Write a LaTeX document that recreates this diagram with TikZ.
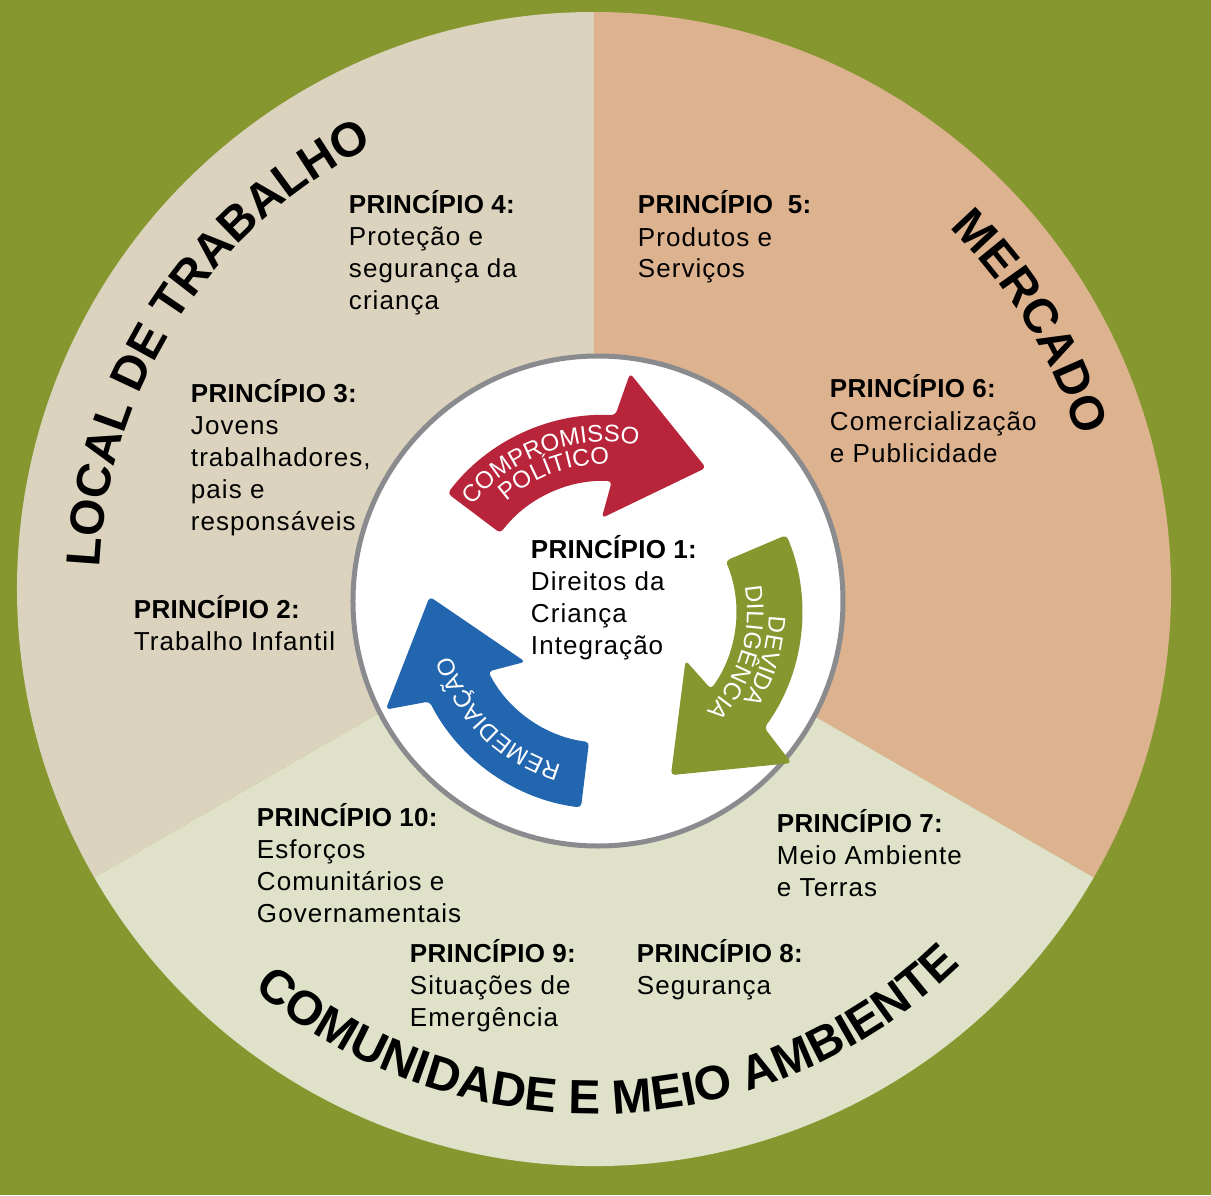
\documentclass[tikz,border=0pt]{standalone}
\usepackage{fontspec}
\setmainfont{Liberation Sans}
\newfontfamily\prinfont[LetterSpace=4]{Liberation Sans}
\newfontfamily\headfamily[LetterSpace=1]{Liberation Sans}
\usepackage{tikz}
\usetikzlibrary{decorations.text}

\definecolor{bggreen}{HTML}{86972F}
\definecolor{workbeige}{HTML}{DCD3BE}
\definecolor{markettan}{HTML}{DCB28F}
\definecolor{commgreen}{HTML}{E0E1C9}
\definecolor{commitred}{HTML}{B8253A}
\definecolor{remedyblue}{HTML}{2366B0}
\definecolor{ringgray}{HTML}{8A8B8F}

\newcommand{\sectorfont}{\bfseries\fontsize{24}{24}\selectfont}
\newcommand{\arrowfont}{\prinfont\fontsize{12}{12}\selectfont}
\newcommand{\prinhead}{\headfamily\bfseries}

% curved arrow round the hub: tail angle, colour, extra turn of the head
\newcommand{\cyclearrow}[3]{%
  \fill[#2,rounded corners=2pt] (#1:197) arc[start angle=#1,end angle=#1-56-#3,radius=197]
    -- (#1-59-#3:240) -- (#1-88-#3:176) -- (#1-51-#3:94) -- (#1-56-#3:131)
    arc[start angle=#1-56-#3,end angle=#1,radius=131] -- cycle;}

% text on an arc: start angle, end angle, radius, font, text, colour
\newcommand{\arctext}[6]{%
  \path[decorate,decoration={text along path,text align=center,text color=#6,
    text={|#4|#5}}] (#1:#3) arc[start angle=#1,end angle=#2,radius=#3];}

\begin{document}
\begin{tikzpicture}[x=0.5pt,y=0.5pt,
  prin/.style={anchor=base west,align=left,inner sep=0pt,outer sep=0pt,
    font=\prinfont\fontsize{13}{16}\selectfont}]

  \fill[bggreen] (-594,-606) rectangle (617,589);
  \useasboundingbox (-594,-606) rectangle (617,589);
  \coordinate (O) at (0,0);

  % the three fields
  \fill[workbeige] (O) -- (90:577) arc[start angle=90,end angle=210,radius=577] -- cycle;
  \fill[markettan] (O) -- (-30:577) arc[start angle=-30,end angle=90,radius=577] -- cycle;
  \fill[commgreen] (O) -- (210:577) arc[start angle=210,end angle=330,radius=577] -- cycle;

  \arctext{207}{87}{495}{\sectorfont}{LOCAL DE TRABALHO}{black}
  \arctext{72}{-9}{507}{\sectorfont}{MERCADO}{black}
  \arctext{212}{332}{525}{\sectorfont}{COMUNIDADE E MEIO AMBIENTE}{black}

  % centre
  \draw[ringgray,fill=white,line width=2.5pt] (4,-12) circle[radius=245];

  \begin{scope}[shift={(11,-23)}]
    \coordinate (hub) at (0,0);
    \cyclearrow{143}{commitred}{0}
    \cyclearrow{23}{bggreen}{3}
    \cyclearrow{263}{remedyblue}{0}
    \arctext{150}{70}{170}{\arrowfont}{COMPROMISSO}{white}
    \arctext{150}{70}{148}{\arrowfont}{POLÍTICO}{white}
    \arctext{23}{-57}{164}{\arrowfont}{DEVIDA}{white}
    \arctext{23}{-57}{142}{\arrowfont}{DILIGÊNCIA}{white}
    \arctext{265}{185}{159}{\arrowfont}{REMEDIAÇÃO}{white}
  \end{scope}

  % base anchor = last line of each text
  \node[prin] (p1) at (-63,-65) {{\prinhead PRINCÍPIO 1:}\\Direitos da\\Criança\\Integração};
  \node[prin] (p2) at (-460,-61) {{\prinhead PRINCÍPIO 2:}\\Trabalho Infantil};
  \node[prin] (p3) at (-403,59) {{\prinhead PRINCÍPIO 3:}\\Jovens\\trabalhadores,\\pais e\\responsáveis};
  \node[prin] (p4) at (-245,279) {{\prinhead PRINCÍPIO 4:}\\Proteção e\\segurança da\\criança};
  \node[prin] (p5) at (44,311) {{\prinhead PRINCÍPIO\ \ 5:}\\Produtos e\\Serviços};
  \node[prin] (p6) at (236,127) {{\prinhead PRINCÍPIO 6:}\\Comercialização\\e Publicidade};
  \node[prin] (p7) at (183,-307) {{\prinhead PRINCÍPIO 7:}\\Meio Ambiente\\e Terras};
  \node[prin] (p8) at (43,-405) {{\prinhead PRINCÍPIO 8:}\\Segurança};
  \node[prin] (p9) at (-184,-437) {{\prinhead PRINCÍPIO 9:}\\Situações de\\Emergência};
  \node[prin] (p10) at (-337,-333) {{\prinhead PRINCÍPIO 10:}\\Esforços\\Comunitários e\\Governamentais};

\end{tikzpicture}
\end{document}
